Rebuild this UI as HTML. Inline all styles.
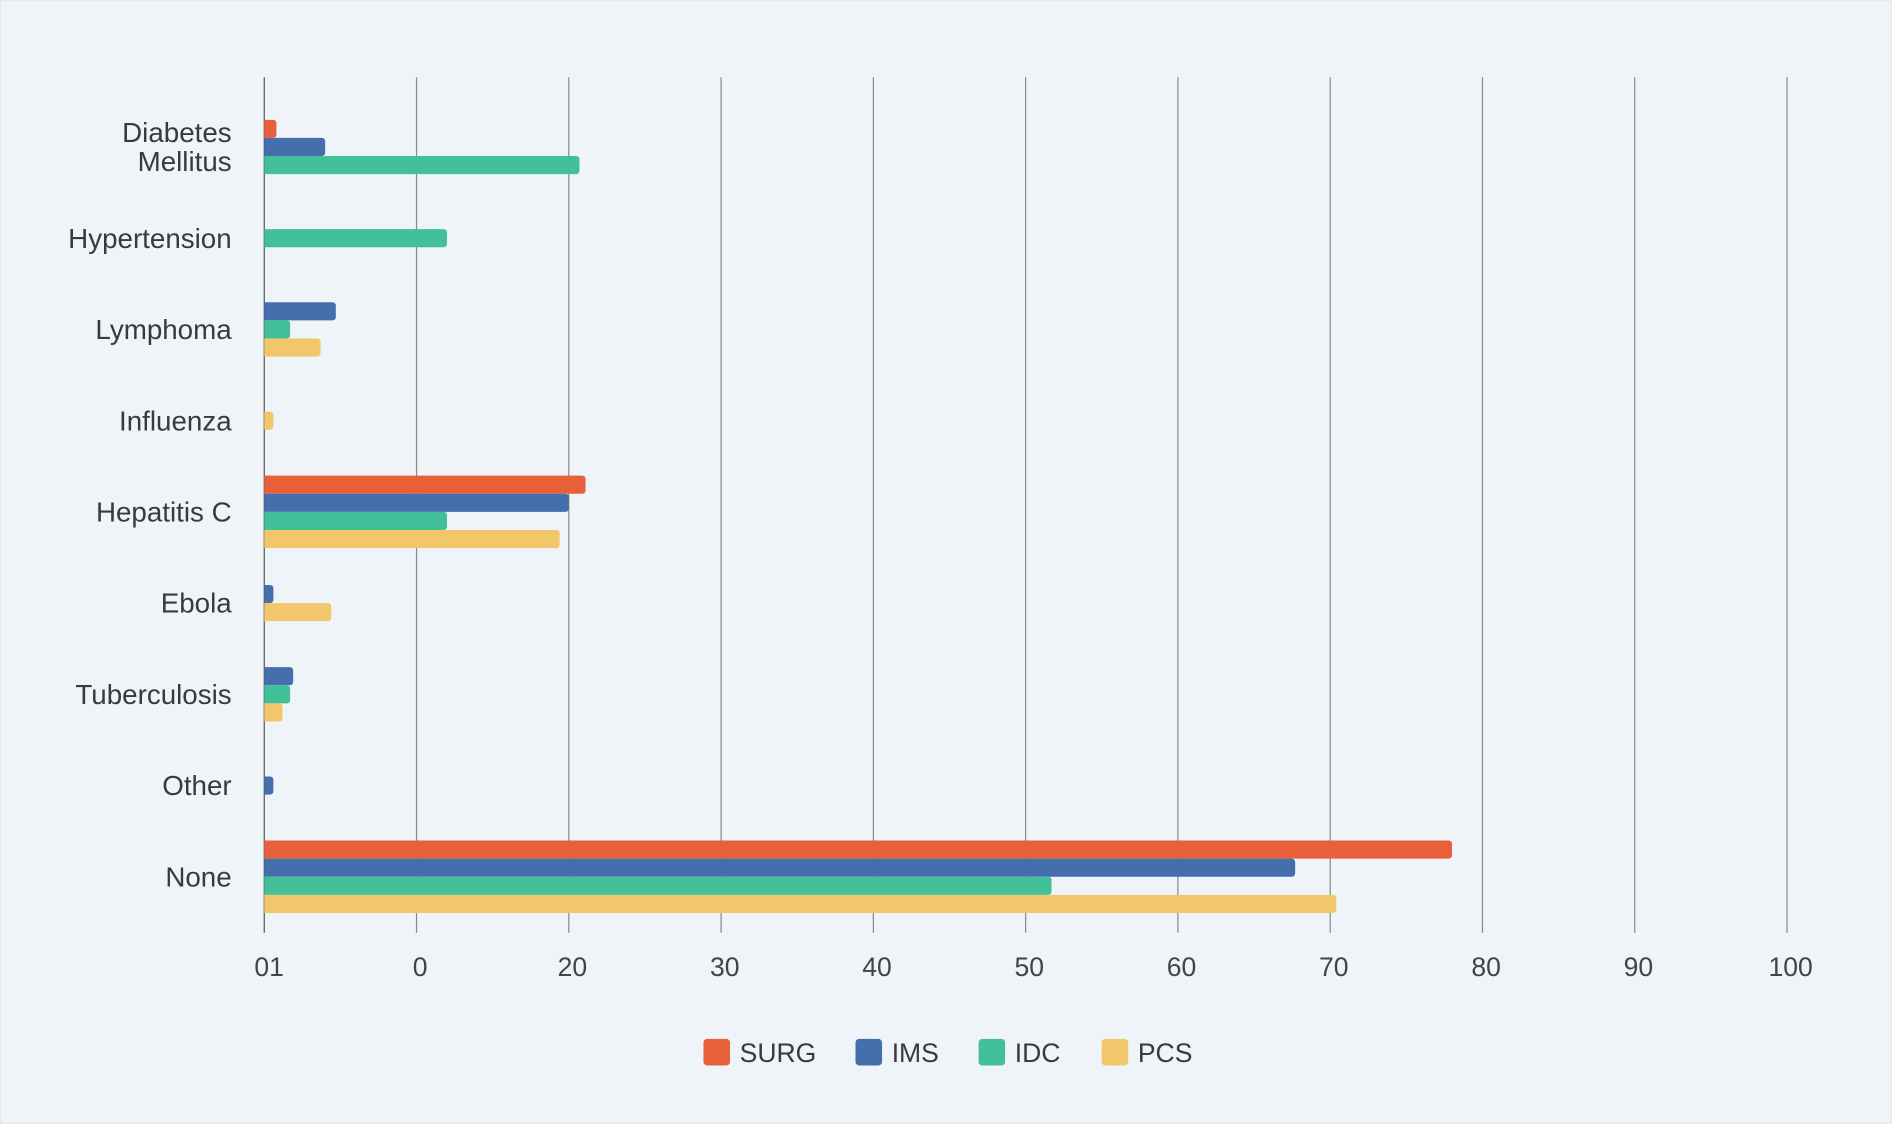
<!DOCTYPE html>
<html><head><meta charset="utf-8"><style>
html,body{margin:0;padding:0;background:#eff4f9;}
svg{display:block;font-family:"Liberation Sans",sans-serif;}
</style></head><body>
<svg id="chart" width="1892" height="1124" viewBox="0 0 1568 931.5" xmlns="http://www.w3.org/2000/svg">
<rect x="0.5" y="0.5" width="1567" height="930.5" fill="#eff4f9" stroke="#e2e8ef"/>
<g id="grid"></g><g id="bars"></g><g id="labels"></g><g id="legend"></g>
</svg>
<script>
const categories = ["Diabetes\nMellitus","Hypertension","Lymphoma","Influenza","Hepatitis C","Ebola","Tuberculosis","Other","None"];
const seriesNames = ["SURG","IMS","IDC","PCS"];
const surg = [0.8,0,0,0,21.1,0,0,0,78.0];
const ims  = [4.0,0,4.7,0,20.0,0.6,1.9,0.6,67.7];
const idc  = [20.7,12.0,1.7,0,12.0,0,1.7,0,51.7];
const pcs  = [0,0,3.7,0.6,19.4,4.4,1.2,0,70.4];
const tickValues = [0,10,20,30,40,50,60,70,80,90,100];
const tickLabels = ["01","0","20","30","40","50","60","70","80","90","100"];
const colors = ["#e8603a","#456ead","#41c09a","#f2c76b"];
const series = [surg, ims, idc, pcs];
const NS="http://www.w3.org/2000/svg";
const x0=219, x1=1481, plotTop=64, plotBottom=773;
const xScale=v=>x0+(v/100)*(x1-x0);
const bandTop=84, band=75.6;
const yCenter=i=>bandTop+band*i+band/2;
const barH=15;
function mk(tag,attrs,parent){const e=document.createElementNS(NS,tag);for(const k in attrs)e.setAttribute(k,attrs[k]);parent.appendChild(e);return e;}
const grid=document.getElementById('grid'),bars=document.getElementById('bars'),labels=document.getElementById('labels'),legend=document.getElementById('legend');
tickValues.forEach((t,i)=>{
  const l=mk('line',{x1:xScale(t),x2:xScale(t),y1:plotTop,y2:plotBottom,stroke:i===0?'#555':'#888','stroke-width':1},grid);
  
  
  const tx=mk('text',{x:xScale(t)+(i===0?4:3),y:809,'text-anchor':'middle','font-size':22,fill:'#444'},labels);
  tx.textContent=tickLabels[i];
  
  
});
categories.forEach((c,i)=>{
  const present=[];series.forEach((s,k)=>{if(s[i]>0)present.push(k);});
  const start=yCenter(i)-present.length*barH/2;
  present.forEach((k,j)=>{
    const w=xScale(series[k][i])-x0;
    const r=Math.min(3,w/2);
    const y=start+j*barH;
    const p=mk('path',{d:`M${x0},${y}h${w-r}q${r},0 ${r},${r}v${barH-2*r}q0,${r} ${-r},${r}h${-(w-r)}z`,fill:colors[k]},bars);
    
    
  });
  const lines=c.split('\n');
  const t=mk('text',{x:192,'text-anchor':'end','font-size':23,fill:'#3a3a3a'},labels);
  
  
  lines.forEach((ln,j)=>{
    const ts=mk('tspan',{x:192,y:yCenter(i)+8+(j-(lines.length-1)/2)*24},t);
    ts.textContent=ln;
  });
});
const legX=[583,709,811,913];
seriesNames.forEach((n,k)=>{
  const g=mk('g',{},legend);
  
  
  mk('rect',{x:legX[k],y:861,width:22,height:22,rx:3,fill:colors[k]},g);
  const t=mk('text',{x:legX[k]+30,y:880,'font-size':22,fill:'#3a3a3a'},g);
  t.textContent=n;
});
</script>
</body></html>
